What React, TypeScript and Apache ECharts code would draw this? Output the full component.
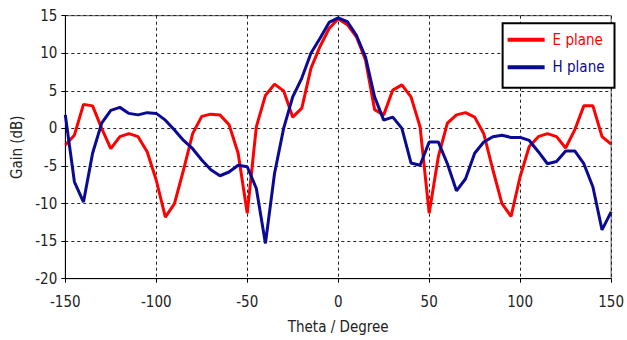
import React, { useEffect, useRef } from "react";
import * as echarts from "echarts";

const theta = [
  -150, -145, -140, -135, -130, -125, -120, -115, -110, -105, -100, -95, -90, -85, -80, -75,
  -70, -65, -60, -55, -50, -45, -40, -35, -30, -25, -20, -15, -10, -5, 0, 5, 10, 15, 20, 25,
  30, 35, 40, 45, 50, 55, 60, 65, 70, 75, 80, 85, 90, 95, 100, 105, 110, 115, 120, 125, 130,
  135, 140, 145, 150,
];

const ePlane = [
  -2.2, -0.9, 3.2, 3.0, 0.0, -2.7, -1.1, -0.7, -1.1, -3.1, -6.9, -11.8, -10.0, -5.5, -0.7, 1.6,
  1.9, 1.8, 0.5, -3.3, -11.3, 0.2, 4.4, 5.9, 5.0, 1.5, 2.7, 8.0, 10.9, 13.3, 14.6, 13.8, 12.2,
  9.1, 2.5, 1.8, 5.1, 5.8, 4.2, 0.2, -11.3, -3.8, 0.7, 1.8, 2.1, 1.5, -0.7, -5.5, -10.0, -11.7,
  -6.4, -2.4, -1.1, -0.7, -1.1, -2.6, -0.2, 3.0, 3.0, -1.1, -2.1,
];

const hPlane = [
  1.8, -7.1, -9.8, -3.3, 0.7, 2.4, 2.8, 2.0, 1.8, 2.1, 2.0, 1.1, -0.2, -1.6, -2.7, -4.2, -5.5,
  -6.3, -5.8, -4.9, -5.1, -8.0, -15.3, -6.0, 0.0, 4.2, 6.7, 10.0, 12.0, 14.1, 14.7, 14.2, 12.4,
  9.5, 4.2, 1.1, 1.5, 0.0, -4.6, -4.9, -1.8, -1.8, -4.7, -8.3, -6.7, -3.3, -1.8, -1.1, -0.9,
  -1.2, -1.2, -1.6, -3.1, -4.7, -4.4, -3.0, -3.0, -4.7, -7.8, -13.5, -11.1,
];

const seriesNames = ["E plane", "H plane"];
const seriesColors = ["#ff0000", "#0a0a94"];

const FONT = "'Liberation Sans Narrow', 'DejaVu Sans Condensed', 'Arial Narrow', sans-serif";
const TEXT_COLOR = "#222";
const FS = 15;

export default function App() {
  const ref = useRef<HTMLDivElement>(null);

  useEffect(() => {
    if (!ref.current) return;
    const chart = echarts.init(ref.current, undefined, { renderer: "svg" });
    const gridLine = { show: true, lineStyle: { color: "#222", type: [3, 3], width: 1 } };
    chart.setOption({
      animation: false,
      backgroundColor: "#fff",
      textStyle: { fontFamily: FONT },
      grid: {
        left: 65.3,
        right: 13.5,
        top: 15.7,
        bottom: 61.3,
        show: true,
        borderColor: "#555",
        borderWidth: 1,
      },
      legend: {
        orient: "vertical",
        right: 12.5,
        top: 23.3,
        backgroundColor: "#fff",
        borderColor: "#000",
        borderWidth: 2,
        borderRadius: 0,
        padding: [9, 10, 13, 5],
        itemGap: 12.5,
        itemWidth: 37,
        itemHeight: 4,
        icon: "rect",
        textStyle: { fontFamily: FONT, fontSize: FS, padding: [0, 0, 0, 3] },
        data: seriesNames.map((n, i) => ({ name: n, textStyle: { color: seriesColors[i] } })),
      },
      xAxis: {
        type: "value",
        min: -150,
        max: 150,
        interval: 50,
        name: "Theta / Degree",
        nameLocation: "middle",
        nameGap: 40.5,
        nameTextStyle: { color: TEXT_COLOR, fontSize: FS, fontFamily: FONT },
        axisLine: { show: true, onZero: false, lineStyle: { color: "#000", width: 1 } },
        axisTick: { show: true, length: 4, lineStyle: { color: "#000" } },
        axisLabel: { color: TEXT_COLOR, fontSize: FS, fontFamily: FONT, margin: 16 },
        splitLine: gridLine,
      },
      yAxis: {
        type: "value",
        min: -20,
        max: 15,
        interval: 5,
        name: "Gain (dB)",
        nameLocation: "middle",
        nameGap: 41,
        nameRotate: 90,
        nameTextStyle: { color: TEXT_COLOR, fontSize: FS, fontFamily: FONT },
        axisLine: { show: true, onZero: false, lineStyle: { color: "#000", width: 1 } },
        axisTick: { show: true, length: 4, lineStyle: { color: "#000" } },
        axisLabel: { color: TEXT_COLOR, fontSize: FS, fontFamily: FONT, margin: 8 },
        splitLine: gridLine,
      },
      series: [
        {
          name: seriesNames[0],
          type: "line",
          data: theta.map((t, i) => [t, ePlane[i]]),
          symbol: "none",
          color: seriesColors[0],
          lineStyle: { color: seriesColors[0], width: 3 },
          z: 3,
        },
        {
          name: seriesNames[1],
          type: "line",
          data: theta.map((t, i) => [t, hPlane[i]]),
          symbol: "none",
          color: seriesColors[1],
          lineStyle: { color: seriesColors[1], width: 3 },
          z: 4,
        },
      ],
    });
    return () => chart.dispose();
  }, []);

  return (
    <div
      ref={ref}
      style={{ position: "fixed", left: 0, top: 0, width: 627, height: 340, background: "#fff" }}
    />
  );
}
